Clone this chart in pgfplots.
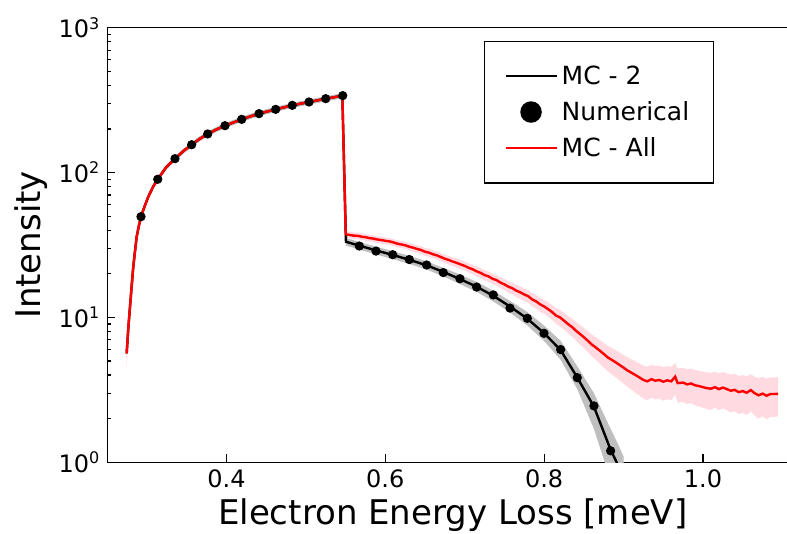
\documentclass[border=0pt]{standalone}
\usepackage{fontspec}
\setmainfont{DejaVu Sans}
\usepackage{pgfplots}
\usepackage{pgfplotstable}
\pgfplotsset{compat=1.18}
\usepgfplotslibrary{fillbetween}
\usetikzlibrary{calc}
\definecolor{bandpink}{RGB}{255,218,224}
\definecolor{bandgray}{RGB}{191,191,191}

\pgfplotstableread{
x y lo hi
0.2744 5.65 4.5 6.8
0.2765 8.5 7.2 9.8
0.2786 11.9 10.5 13.3
0.2807 16.5 15.0 18.0
0.2827 22.4 20.8 24.0
0.2850 29.0 27.2 30.8
0.2870 36.1 34.2 38.0
0.2900 43.5 41.5 45.5
0.2924 49.6 47.5 51.7
0.2970 58.5 56.3 60.7
0.3016 68.1 65.8 70.4
0.3075 79.5 77.1 81.9
0.3135 89.9 87.4 92.4
0.3240 108.5 105.9 111.1
0.3352 124.7 121.9 127.5
0.3460 141 138.1 143.9
0.3562 155.7 152.7 158.7
0.3660 170.5 167.4 173.6
0.3764 184.6 181.5 187.7
0.3870 198 194.8 201.2
0.3982 210.6 207.3 213.9
0.4090 222 218.7 225.3
0.4192 233 229.6 236.4
0.4300 244 240.6 247.4
0.4410 255 251.6 258.4
0.4515 264 260.5 267.5
0.4620 273 269.5 276.5
0.4725 282 278.5 285.5
0.4829 291 287.4 294.6
0.4935 299 295.4 302.6
0.5040 307 303.4 310.6
0.5145 315 311.3 318.7
0.5250 323.6 319.9 327.3
0.5355 331 327.3 334.7
0.5445 339 335.3 342.7
0.5460 328 324.3 331.7
0.5502 37.5 35.6 39.4
0.555 37.1 35.2 39.0
0.560 36.7 34.8 38.6
0.565 36.6 34.7 38.5
0.570 36.1 34.2 38.0
0.575 35.8 33.9 37.7
0.580 35.3 33.4 37.2
0.585 35.0 33.1 36.9
0.590 34.5 32.6 36.4
0.595 34.2 32.3 36.1
0.600 33.8 32.0 35.6
0.605 33.5 31.7 35.3
0.610 33.0 31.2 34.8
0.615 32.3 30.5 34.1
0.620 31.9 30.1 33.7
0.625 31.5 29.7 33.3
0.630 30.8 29.0 32.6
0.635 30.3 28.5 32.1
0.640 29.7 27.9 31.5
0.645 29.2 27.4 31.0
0.650 28.4 26.6 30.2
0.655 28.0 26.2 29.8
0.660 27.3 25.6 29.0
0.665 26.8 25.1 28.5
0.670 26.1 24.4 27.8
0.675 25.4 23.7 27.1
0.680 24.9 23.2 26.6
0.685 24.3 22.6 26.0
0.690 23.8 22.1 25.5
0.695 23.2 21.5 24.9
0.700 22.7 21.1 24.3
0.705 22.0 20.4 23.6
0.710 21.5 19.9 23.1
0.715 20.8 19.2 22.4
0.720 20.3 18.7 21.9
0.725 19.6 18.0 21.2
0.730 19.2 17.6 20.8
0.735 18.5 17.0 20.0
0.740 18.1 16.6 19.6
0.745 17.4 15.9 18.9
0.750 16.9 15.4 18.4
0.755 16.3 14.8 17.8
0.760 15.9 14.4 17.4
0.765 15.3 13.8 16.8
0.770 14.9 13.4 16.4
0.775 14.4 13.0 15.8
0.780 14.0 12.6 15.4
0.785 13.3 11.9 14.7
0.790 12.9 11.5 14.3
0.795 12.3 10.9 13.7
0.800 11.9 10.6 13.2
0.805 11.4 10.1 12.7
0.810 10.9 9.6 12.2
0.815 10.3 9.0 11.6
0.820 10.0 8.7 11.3
0.825 9.5 8.25 10.75
0.830 9.0 7.77 10.23
0.835 8.6 7.4 9.8
0.840 8.1 6.9 9.3
0.845 7.7 6.5 8.9
0.850 7.3 6.15 8.45
0.855 6.9 5.77 8.03
0.860 6.5 5.38 7.62
0.865 6.2 5.09 7.31
0.870 5.9 4.8 7.0
0.875 5.6 4.52 6.68
0.880 5.3 4.24 6.36
0.885 5.1 4.05 6.15
0.890 4.9 3.86 5.94
0.895 4.7 3.67 5.73
0.900 4.5 3.49 5.51
0.905 4.3 3.31 5.29
0.910 4.15 3.17 5.13
0.915 4.0 3.02 4.98
0.920 3.85 2.89 4.81
0.925 3.70 2.75 4.65
0.930 3.62 2.68 4.56
0.935 3.75 2.80 4.70
0.940 3.66 2.71 4.61
0.945 3.70 2.75 4.65
0.950 3.60 2.66 4.54
0.955 3.68 2.73 4.63
0.960 3.62 2.68 4.56
0.965 3.90 2.94 4.86
0.968 3.52 2.58 4.46
0.975 3.55 2.61 4.49
0.980 3.45 2.52 4.38
0.985 3.50 2.56 4.44
0.990 3.40 2.47 4.33
0.995 3.36 2.43 4.29
1.000 3.30 2.38 4.22
1.005 3.25 2.33 4.17
1.010 3.22 2.30 4.14
1.015 3.30 2.38 4.22
1.020 3.20 2.29 4.11
1.025 3.28 2.36 4.20
1.030 3.20 2.29 4.11
1.035 3.12 2.21 4.03
1.040 3.16 2.25 4.07
1.045 3.05 2.15 3.95
1.050 3.10 2.20 4.00
1.055 3.02 2.12 3.92
1.060 3.15 2.24 4.06
1.065 3.00 2.10 3.90
1.070 2.90 2.00 3.80
1.075 2.98 2.08 3.88
1.080 2.88 1.98 3.78
1.085 2.96 2.06 3.86
1.090 2.96 2.06 3.86
1.0945 2.97 2.07 3.87
}\mcall

\pgfplotstableread{
x y lo hi
0.2744 5.65 5.2 6.1
0.2765 8.5 8.0 9.0
0.2786 11.9 11.3 12.5
0.2807 16.5 15.7 17.3
0.2827 22.4 21.4 23.4
0.2850 29.0 27.8 30.2
0.2870 36.1 34.6 37.6
0.2900 43.5 41.8 45.2
0.2924 49.6 47.6 51.6
0.2970 58.5 56.2 60.8
0.3016 68.1 65.4 70.8
0.3075 79.5 76.3 82.7
0.3135 89.9 86.3 93.5
0.3240 108.5 104.2 112.8
0.3352 124.7 119.7 129.7
0.3460 141 135.4 146.6
0.3562 155.7 149.5 161.9
0.3660 170.5 163.7 177.3
0.3764 184.6 177.2 192.0
0.3870 198 190.1 205.9
0.3982 210.6 202.2 219.0
0.4090 222 213.1 230.9
0.4192 233 223.7 242.3
0.4300 244 234.2 253.8
0.4410 255 244.8 265.2
0.4515 264 253.4 274.6
0.4620 273 262.1 283.9
0.4725 282 270.7 293.3
0.4829 291 279.4 302.6
0.4935 299 287.0 311.0
0.5040 307 294.7 319.3
0.5145 315 302.4 327.6
0.5250 323.6 310.7 336.5
0.5355 331 317.8 344.2
0.5445 339 325.4 352.6
0.5460 328 314.9 341.1
0.5505 33.3 31.3 35.3
0.5673 31.3 29.4 33.2
0.5883 29.0 27.2 30.8
0.6093 27.0 25.3 28.7
0.6302 25.0 23.4 26.6
0.6521 22.9 21.4 24.4
0.6730 20.6 19.2 22.0
0.6940 18.4 17.0 19.8
0.7150 16.3 15.0 17.6
0.7360 14.1 12.9 15.3
0.7570 11.9 10.8 13.0
0.7788 9.8 8.8 10.9
0.7998 7.8 6.9 8.8
0.8208 5.95 5.1 6.9
0.8417 3.85 3.2 4.6
0.8627 2.42 1.7 3.0
0.8837 1.22 0.75 1.7
0.8913 1.0 0.6 1.4
0.9000 0.75 0.4 1.1
}\mctwo

\pgfplotstableread{
x y
0.2924 49.6
0.3135 89.9
0.3352 124.7
0.3562 155.7
0.3764 184.6
0.3982 210.6
0.4192 233
0.4410 255
0.4620 273
0.4829 291
0.5040 307
0.5250 323.6
0.5464 339.6
0.5673 31.1
0.5883 28.7
0.6093 27.1
0.6302 25.1
0.6521 23.0
0.6730 20.4
0.6940 18.5
0.7150 16.2
0.7360 14.3
0.7570 11.6
0.7788 9.86
0.7998 7.77
0.8208 6.0
0.8417 3.84
0.8627 2.45
0.8837 1.20
}\numerical

\begin{document}
\begin{tikzpicture}
\begin{axis}[
  scale only axis,
  width=345.5pt, height=217.3pt,
  xmin=0.25, xmax=1.12,
  ymode=log, ymin=1, ymax=1000,
  xtick={0.4,0.6,0.8,1.0}, xticklabels={0.4,0.6,0.8,1.0},
  ytick={1,10,100,1000},
  yticklabels={10\textsuperscript{0},10\textsuperscript{1},10\textsuperscript{2},10\textsuperscript{3}},
  xtick pos=bottom, ytick pos=left,
  tick align=inside,
  major tick length=4pt, minor tick length=2pt,
  axis line style={line width=0.75pt},
  tick style={black, line width=0.6pt},
  tick label style={font=\fontsize{12}{14}\selectfont},
  xlabel={Electron Energy Loss [meV]},
  ylabel={Intensity},
  label style={font=\fontsize{17}{20}\selectfont},
  xlabel style={at={(axis description cs:0.5,0)}, anchor=base, yshift=-31pt},
  ylabel style={at={(axis description cs:-0.1109,0.5)}, anchor=center},
  legend cell align=left,
  legend image code/.code={\draw[mark repeat=2,mark phase=2,#1] plot coordinates {(0pt,0pt) (12.75pt,0pt) (25.5pt,0pt)};},
  legend style={at={(0.878,0.970)}, anchor=north east, draw=black, line width=0.75pt,
    font=\fontsize{12.5}{15}\selectfont, inner xsep=10pt, inner ysep=10pt,
    row sep=3pt, /tikz/every even column/.append style={column sep=10.5pt}},
]
\coordinate (SW) at (rel axis cs:0,0);
\addplot[draw=none, name path=gU, forget plot] table[x=x, y=hi] {\mctwo};
\addplot[draw=none, name path=gL, forget plot] table[x=x, y=lo] {\mctwo};
\addplot[bandgray, forget plot] fill between[of=gU and gL];
\addplot[draw=none, name path=rU, forget plot] table[x=x, y=hi] {\mcall};
\addplot[draw=none, name path=rL, forget plot] table[x=x, y=lo] {\mcall};
\addplot[bandpink, forget plot] fill between[of=rU and rL];
\addplot[black, line width=1.2pt, no marks] table[x=x, y=y] {\mctwo};
\addlegendentry{MC - 2}
\addplot[black, only marks, mark=*, mark size=2.1pt, legend image post style={mark size=5pt}] table[x=x, y=y] {\numerical};
\addlegendentry{Numerical}
\addplot[red, line width=1.2pt, no marks] table[x=x, y=y] {\mcall};
\addlegendentry{MC - All}
\end{axis}
\pgfresetboundingbox
\path[use as bounding box] ($(SW)+(-53.65pt,-35.85pt)$) rectangle ++(393.5pt,267pt);
\end{tikzpicture}
\end{document}
